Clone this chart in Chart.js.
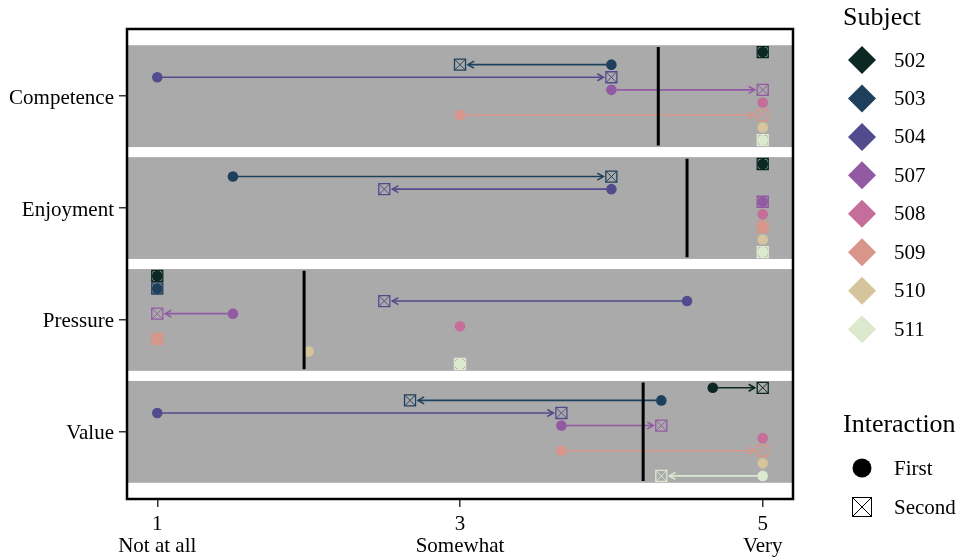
<!DOCTYPE html>
<html>
<head>
<meta charset="utf-8">
<script src="https://cdn.jsdelivr.net/npm/chart.js@4.4.1/dist/chart.umd.min.js"></script>
<style>
  html, body { margin: 0; padding: 0; background: #ffffff; }
  canvas { display: block; }
</style>
</head>
<body>
<canvas id="c" width="966" height="557"></canvas>
<script>
// ---------- data ----------
const categories = ['Competence', 'Enjoyment', 'Pressure', 'Value'];
const subjects = ['502', '503', '504', '507', '508', '509', '510', '511'];
const subjectColors = ['#0b2823', '#1e405c', '#524b8d', '#935aa4', '#c56e99', '#d99589', '#d6c49d', '#dde9cf'];
// values indexed by subject (same order as subjects)
const firstCompetence  = [5, 4, 1, 4, 5, 3, 5, 5];
const secondCompetence = [5, 3, 4, 5, null, 5, null, 5];
const firstEnjoyment   = [5, 1.5, 4, 5, 5, 5, 5, 5];
const secondEnjoyment  = [5, 4, 2.5, 5, null, 5, null, 5];
const firstPressure    = [1, 1, 4.5, 1.5, 3, 1, 2, 3];
const secondPressure   = [1, 1, 2.5, 1, null, 1, null, 3];
const firstValue       = [4.67, 4.33, 1, 3.67, 5, 3.67, 5, 5];
const secondValue      = [5, 2.67, 3.67, 4.33, null, 5, null, 4.33];
const categoryLines    = [4.31, 4.5, 1.97, 4.21];
const xTickValues = [1, 3, 5];
const xTickLabels = ['Not at all', 'Somewhat', 'Very'];
const interactions = ['First', 'Second'];

const firstByCat  = [firstCompetence, firstEnjoyment, firstPressure, firstValue];
const secondByCat = [secondCompetence, secondEnjoyment, secondPressure, secondValue];

const DODGE = 0.1125;
function yFor(catIdx, subjIdx) { return catIdx + 1 + (subjIdx - 3.5) * DODGE; }
function pointsFor(arrs, s) {
  const out = [];
  arrs.forEach((arr, c) => { if (arr[s] !== null) out.push({ x: arr[s], y: yFor(c, s) }); });
  return out;
}

const FONT = "'Liberation Serif', 'Times New Roman', serif";
Chart.defaults.font.family = FONT;
Chart.defaults.color = '#000';

// ---------- datasets ----------
const datasets = [];
subjects.forEach((s, i) => {
  const col = subjectColors[i];
  datasets.push({
    label: s + ' First', data: pointsFor(firstByCat, i), order: 1,
    pointStyle: 'circle', pointRadius: 5.3, pointBackgroundColor: col, pointBorderWidth: 0, borderColor: col
  });
  datasets.push({
    label: s + ' Second box', data: pointsFor(secondByCat, i), order: 2,
    pointStyle: 'rect', pointRadius: 7.8, pointBackgroundColor: 'rgba(0,0,0,0)', pointBorderColor: col, pointBorderWidth: 1.3
  });
  datasets.push({
    label: s + ' Second cross', data: pointsFor(secondByCat, i), order: 2,
    pointStyle: 'crossRot', pointRadius: 7.8, pointBorderColor: col, pointBorderWidth: 1
  });
});
categoryLines.forEach((m, c) => {
  datasets.push({
    label: categories[c] + ' line', order: 0, showLine: true,
    data: [{ x: m, y: c + 1 - 0.44 }, { x: m, y: c + 1 + 0.44 }],
    borderColor: '#000', borderWidth: 3, pointRadius: 0
  });
});

// ---------- plugins ----------
const bandsAndArrows = {
  id: 'bandsAndArrows',
  beforeDatasetsDraw(chart) {
    const { ctx, chartArea, scales } = chart;
    const xs = scales.x, ys = scales.y;
    ctx.save();
    ctx.beginPath();
    ctx.rect(chartArea.left, chartArea.top, chartArea.width, chartArea.height);
    ctx.clip();
    // grey bands
    ctx.fillStyle = '#aaaaaa';
    categories.forEach((c, k) => {
      const y1 = ys.getPixelForValue(k + 1 - 0.455);
      const y2 = ys.getPixelForValue(k + 1 + 0.455);
      ctx.fillRect(chartArea.left, Math.min(y1, y2), chartArea.width, Math.abs(y2 - y1));
    });
    // arrows
    subjects.forEach((s, i) => {
      categories.forEach((c, k) => {
        const a = firstByCat[k][i], b = secondByCat[k][i];
        if (a === null || b === null || a === b) return;
        const py = ys.getPixelForValue(yFor(k, i));
        const x1 = xs.getPixelForValue(a), x2 = xs.getPixelForValue(b);
        const dir = Math.sign(x2 - x1);
        const start = x1 + dir * 5;
        const tip = x2 - dir * 8;
        ctx.strokeStyle = subjectColors[i];
        ctx.lineWidth = 1.6;
        ctx.beginPath();
        ctx.moveTo(start, py);
        ctx.lineTo(tip, py);
        ctx.stroke();
        const hl = 7, ang = Math.PI / 6;
        ctx.beginPath();
        ctx.moveTo(tip - dir * hl * Math.cos(ang), py - hl * Math.sin(ang));
        ctx.lineTo(tip, py);
        ctx.lineTo(tip - dir * hl * Math.cos(ang), py + hl * Math.sin(ang));
        ctx.stroke();
      });
    });
    ctx.restore();
  },
  afterDraw(chart) {
    const { ctx, chartArea } = chart;
    ctx.save();
    // panel border
    ctx.strokeStyle = '#000';
    ctx.lineWidth = 2.5;
    ctx.strokeRect(chartArea.left, chartArea.top, chartArea.width, chartArea.height);
    // legends
    ctx.fillStyle = '#000';
    ctx.textBaseline = 'middle';
    ctx.textAlign = 'left';
    ctx.font = '26px ' + FONT;
    ctx.fillText('Subject', 843, 18);
    ctx.font = '21px ' + FONT;
    subjects.forEach((s, i) => {
      const cy = 60 + 38.45 * i, cx = 862, h = 14;
      ctx.fillStyle = subjectColors[i];
      ctx.beginPath();
      ctx.moveTo(cx, cy - h); ctx.lineTo(cx + h, cy); ctx.lineTo(cx, cy + h); ctx.lineTo(cx - h, cy);
      ctx.closePath();
      ctx.fill();
      ctx.fillStyle = '#000';
      ctx.fillText(s, 894, cy + 1);
    });
    ctx.font = '26px ' + FONT;
    ctx.fillText('Interaction', 843, 425);
    ctx.font = '21px ' + FONT;
    // First
    ctx.beginPath();
    ctx.arc(862, 468, 9.5, 0, Math.PI * 2);
    ctx.fill();
    ctx.fillText(interactions[0], 894, 469);
    // Second
    const sq = 19, sx = 862 - sq / 2, sy = 507 - sq / 2;
    ctx.strokeStyle = '#000';
    ctx.lineWidth = 1;
    ctx.strokeRect(sx, sy, sq, sq);
    ctx.beginPath();
    ctx.moveTo(sx, sy); ctx.lineTo(sx + sq, sy + sq);
    ctx.moveTo(sx + sq, sy); ctx.lineTo(sx, sy + sq);
    ctx.stroke();
    ctx.fillText(interactions[1], 894, 508);
    ctx.restore();
  }
};

// ---------- chart ----------
new Chart(document.getElementById('c'), {
  type: 'scatter',
  data: { datasets },
  options: {
    responsive: false,
    animation: false,
    layout: { padding: { top: 29, right: 173, left: 0, bottom: 0 } },
    plugins: { legend: { display: false }, tooltip: { enabled: false } },
    scales: {
      x: {
        type: 'linear', min: 0.8, max: 5.2,
        afterBuildTicks: (sc) => { sc.ticks = xTickValues.map(v => ({ value: v })); },
        afterFit: (sc) => { sc.height = 58; },
        ticks: {
          autoSkip: false, maxRotation: 0, padding: 6,
          font: { size: 21, lineHeight: 1.05 }, color: '#000',
          callback: (v) => { const k = xTickValues.indexOf(v); return [String(v), xTickLabels[k]]; }
        },
        grid: { drawOnChartArea: false, drawTicks: true, tickLength: 8, color: '#333', lineWidth: 1.5 },
        border: { display: false }
      },
      y: {
        type: 'linear', min: 0.4, max: 4.6, reverse: true,
        afterBuildTicks: (sc) => { sc.ticks = categories.map((c, k) => ({ value: k + 1 })); },
        afterFit: (sc) => { sc.width = 127; },
        ticks: {
          autoSkip: false, padding: 5, labelOffset: 2,
          font: { size: 21 }, color: '#000',
          callback: (v) => categories[v - 1]
        },
        grid: { drawOnChartArea: false, drawTicks: true, tickLength: 8, color: '#333', lineWidth: 1.5 },
        border: { display: false }
      }
    }
  },
  plugins: [bandsAndArrows]
});
</script>
</body>
</html>
